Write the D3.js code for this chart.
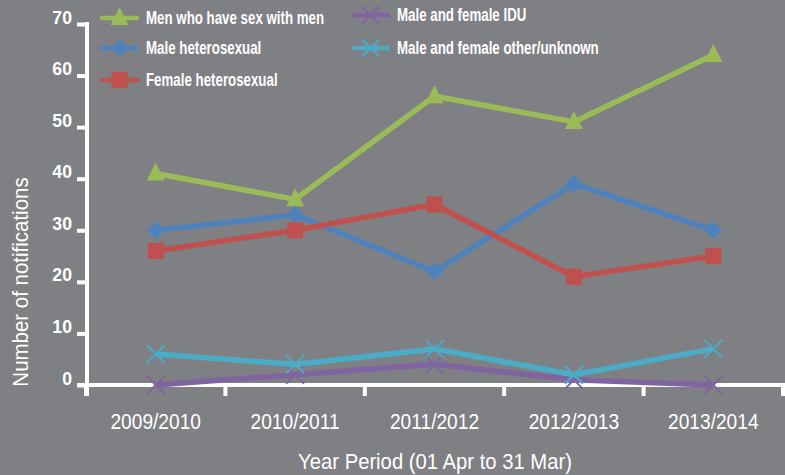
<!DOCTYPE html>
<html>
<head>
<meta charset="utf-8">
<script src="https://cdn.jsdelivr.net/npm/d3@7"></script>
<style>
  html, body { margin: 0; padding: 0; background: #7f8084; }
  svg { display: block; }
  .lbl { font-family: "Liberation Sans", Arial, sans-serif; fill: #fff; }
</style>
</head>
<body>
<svg id="chart" width="785" height="475"></svg>
<script>
var categories = ["2009/2010", "2010/2011", "2011/2012", "2012/2013", "2013/2014"];
var seriesNames = ["Men who have sex with men", "Male heterosexual", "Female heterosexual",
                   "Male and female IDU", "Male and female other/unknown"];
var msm = [41, 36, 56, 51, 64];
var maleHetero = [30, 33, 22, 39, 30];
var femaleHetero = [26, 30, 35, 21, 25];
var idu = [0, 2, 4, 1, 0];
var otherUnknown = [6, 4, 7, 2, 7];
var yTicks = [0, 10, 20, 30, 40, 50, 60, 70];

var seriesValues = [msm, maleHetero, femaleHetero, idu, otherUnknown];
var COLORS = ["#9bbb59", "#4f81bd", "#c0504d", "#8064a2", "#4bacc6"];
var SHAPES = ["triangle", "diamond", "square", "x", "x"];

var svg = d3.select("#chart");

var x = d3.scaleBand().domain(categories).range([86, 783]);
var y = d3.scaleLinear().domain([0, 70]).range([385, 24]);

// no condensed font installed, so squeeze the glyphs horizontally
function condense(sel, k) {
    sel.each(function() {
        var w = this.getComputedTextLength();
        d3.select(this)
          .attr("textLength", w * k)
          .attr("lengthAdjust", "spacingAndGlyphs");
    });
}

function markerPath(shape, s) {
    if (shape == "triangle")
        return "M0," + (-11 * s) + "L" + (9 * s) + "," + (7 * s) + "L" + (-9 * s) + "," + (7 * s) + "Z";
    if (shape == "diamond")
        return "M0," + (-9 * s) + "L" + (9 * s) + ",0L0," + (9 * s) + "L" + (-9 * s) + ",0Z";
    if (shape == "square")
        return "M" + (-8 * s) + "," + (-8 * s) + "h" + (16 * s) + "v" + (16 * s) + "h" + (-16 * s) + "Z";
    // x marker
    return "M" + (-9 * s) + "," + (-9 * s) + "L" + (9 * s) + "," + (9 * s) +
           "M" + (9 * s) + "," + (-9 * s) + "L" + (-9 * s) + "," + (9 * s);
}

function styleMarker(sel, i) {
    if (SHAPES[i] == "x") {
        sel.attr("fill", "none").attr("stroke", COLORS[i]).attr("stroke-width", 2);
    } else {
        sel.attr("fill", COLORS[i]).attr("stroke", "none");
    }
}

// y axis
var yAxis = svg.append("g")
    .attr("class", "y-axis lbl")
    .attr("transform", "translate(87 0)")
    .call(d3.axisLeft(y).tickValues(yTicks).tickSize(10).tickPadding(5));
yAxis.select(".domain").remove();
yAxis.selectAll("line").attr("stroke", "#fff").attr("stroke-width", 4);
yAxis.selectAll("text")
    .attr("dy", "-1")
    .attr("fill", "#fff")
    .style("font-size", "19px")
    .style("font-weight", "bold")
    .call(condense, 0.93);

svg.append("line")
    .attr("x1", 87).attr("x2", 87)
    .attr("y1", y(70) - 2).attr("y2", 396)
    .attr("stroke", "#fff").attr("stroke-width", 4);

// x axis
var xAxis = svg.append("g")
    .attr("class", "x-axis lbl")
    .attr("transform", "translate(0 385)")
    .call(d3.axisBottom(x).tickSize(0).tickPadding(0));
xAxis.select(".domain").remove();
xAxis.selectAll("text")
    .attr("y", 44)
    .attr("dy", 0)
    .attr("fill", "#fff")
    .style("font-size", "22px")
    .call(condense, 0.87);

var edges = categories.map(function(d) { return x(d); }).concat([x.range()[1]]);
svg.append("line")
    .attr("x1", 77).attr("x2", 785)
    .attr("y1", 385).attr("y2", 385)
    .attr("stroke", "#fff").attr("stroke-width", 4);
svg.selectAll(".x-tick")
    .data(edges)
    .enter()
    .append("line")
    .attr("class", "x-tick")
    .attr("x1", function(d) { return d; })
    .attr("x2", function(d) { return d; })
    .attr("y1", 385).attr("y2", 396)
    .attr("stroke", "#fff").attr("stroke-width", 4);

// axis titles
svg.append("text")
    .attr("class", "lbl")
    .attr("transform", "translate(28 282) rotate(-90)")
    .attr("text-anchor", "middle")
    .style("font-size", "22px")
    .text("Number of notifications")
    .call(condense, 0.93);

svg.append("text")
    .attr("class", "lbl")
    .attr("x", 435).attr("y", 469)
    .attr("text-anchor", "middle")
    .style("font-size", "22px")
    .text("Year Period (01 Apr to 31 Mar)")
    .call(condense, 0.92);

// series
var line = d3.line()
    .x(function(d, j) { return x(categories[j]) + x.bandwidth() / 2; })
    .y(function(d) { return y(d); });

seriesValues.forEach(function(vals, i) {
    var g = svg.append("g").attr("class", "series");
    g.append("path")
        .attr("d", line(vals))
        .attr("fill", "none")
        .attr("stroke", COLORS[i])
        .attr("stroke-width", 5.5)
        .attr("stroke-linejoin", "miter");
    g.selectAll(".marker")
        .data(vals)
        .enter()
        .append("path")
        .attr("class", "marker")
        .attr("transform", function(d, j) {
            return "translate(" + (x(categories[j]) + x.bandwidth() / 2) + " " + y(d) + ")";
        })
        .attr("d", markerPath(SHAPES[i], 1))
        .call(styleMarker, i);
});

// legend
var legendPos = [[102, 18], [102, 48], [102, 80], [353, 15], [353, 48]];
var legend = svg.selectAll(".legend")
    .data(seriesNames)
    .enter()
    .append("g")
    .attr("class", "legend")
    .attr("transform", function(d, i) { return "translate(" + legendPos[i][0] + " " + legendPos[i][1] + ")"; });

legend.append("line")
    .attr("x1", 0).attr("x2", 35)
    .attr("stroke", function(d, i) { return COLORS[i]; })
    .attr("stroke-width", 4.5)
    .attr("stroke-linecap", "round");
legend.append("path")
    .attr("transform", "translate(17.5 0)")
    .attr("d", function(d, i) { return markerPath(SHAPES[i], 1); })
    .each(function(d, i) { d3.select(this).call(styleMarker, i); });
legend.append("text")
    .attr("class", "lbl")
    .attr("x", 44).attr("y", 5.5)
    .style("font-size", "17.5px")
    .style("font-weight", "bold")
    .text(function(d) { return d; })
    .call(condense, 0.76);
</script>
</body>
</html>
